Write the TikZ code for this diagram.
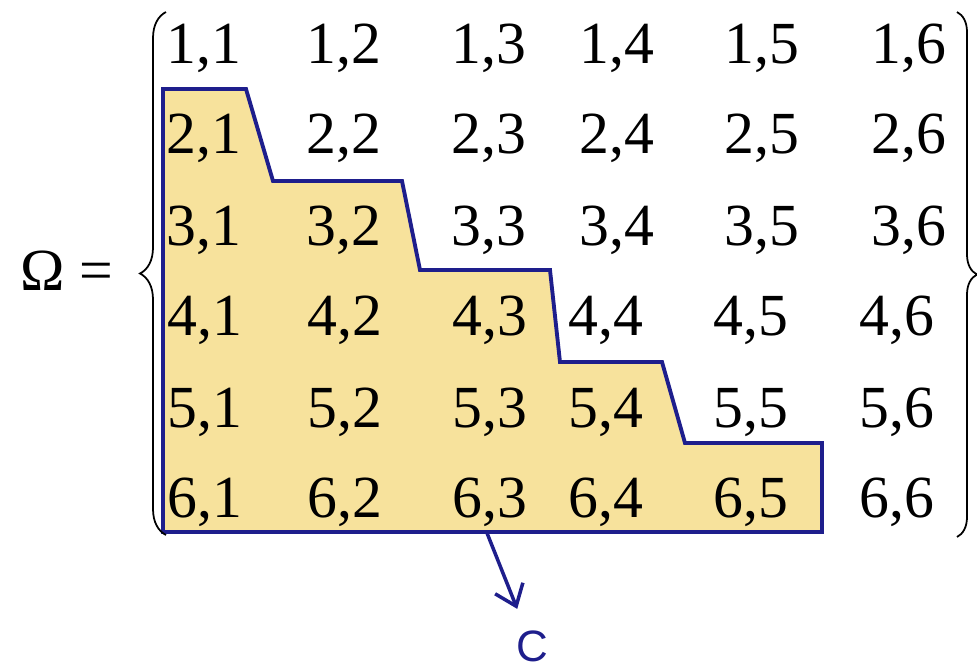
\documentclass[tikz,border=0pt]{standalone}
\usepackage{fontspec}
\setmainfont{Liberation Serif}
\newfontfamily\sanslabel{Liberation Sans}
\usetikzlibrary{arrows.meta,decorations.pathreplacing}
\definecolor{regionfill}{RGB}{247,226,156}
\definecolor{regionline}{RGB}{30,30,140}

\begin{document}
\begin{tikzpicture}[x=0.02cm, y=-0.02cm,
    pair/.style={anchor=base, inner sep=0pt, font=\fontsize{34}{40}\selectfont},
    setbrace/.style={draw=black, line width=1pt, decorate, decoration={brace, amplitude=#1}},
    arr/.style={-{Straight Barb[length=11pt, width=17pt]}, line width=2pt, draw=regionline, line cap=round}
]
\useasboundingbox (0,0) rectangle (977,670);

% shaded event region
\filldraw[fill=regionfill, draw=regionline, line width=2.2pt, line join=miter]
  (163,89) -- (246,89) -- (273,181) -- (402,181) -- (420,270) -- (550,270)
  -- (560,362) -- (662,362) -- (685,443) -- (822,443) -- (822,532) -- (163,532) -- cycle;

\node[pair] (omega) at (67,290) {Ω = };

% sample space pairs
\foreach \r/\y in {1/63,2/153,3/245}
  \foreach \c/\x in {1/204,2/344,3/489,4/617,5/762,6/909}
    \node[pair] (p\r\c) at (\x,\y) {\r,\c};
\foreach \r/\y in {4/335,5/427,6/517}
  \foreach \c/\x in {1/205,2/345,3/490,4/606,5/751,6/897}
    \node[pair] (p\r\c) at (\x,\y) {\r,\c};

\draw[setbrace=0.52cm] (166,535) -- (166,12);
\draw[setbrace=0.4cm] (957,12) -- (957,537);

\coordinate (tail) at (487,533);
\node[font=\sanslabel\fontsize{25}{30}\selectfont, text=regionline, inner sep=0pt] (evt) at (532,646) {C};
\draw[arr, shorten >=13pt] (tail) -- (evt);
\end{tikzpicture}
\end{document}
